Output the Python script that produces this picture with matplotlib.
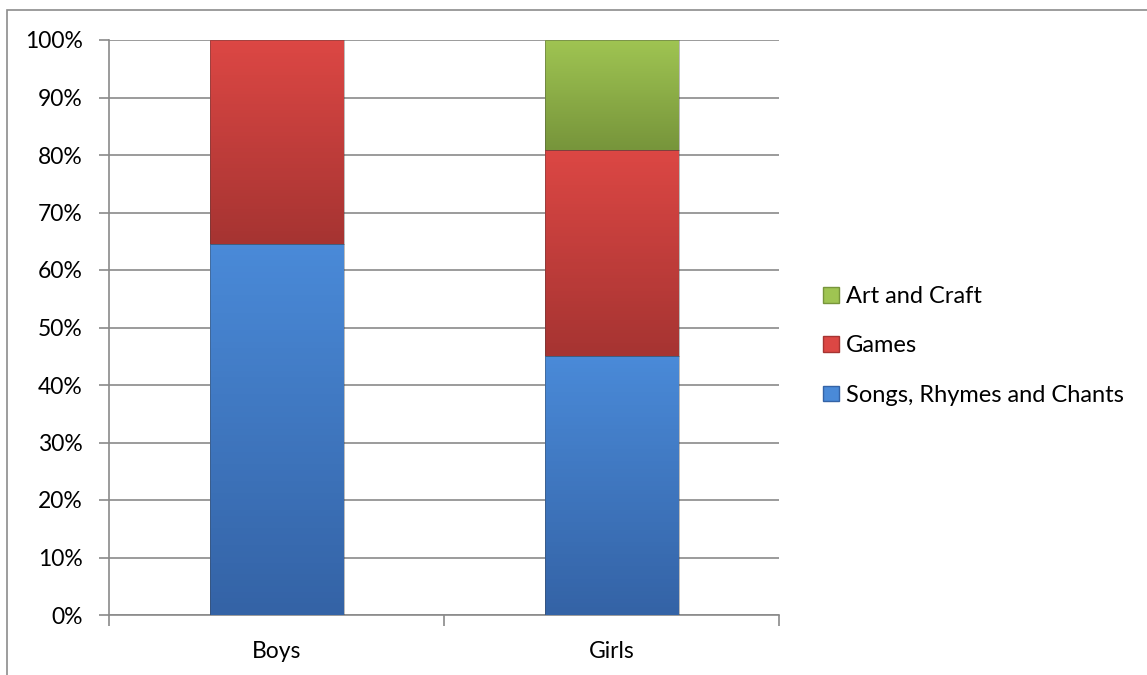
import numpy as np
import matplotlib
matplotlib.use('Agg')
import matplotlib.pyplot as plt
from matplotlib.colors import LinearSegmentedColormap
from matplotlib.patches import Patch, Rectangle

# Данные (доли в %)
categories = ['Boys', 'Girls']
series_names = ['Songs, Rhymes and Chants', 'Games', 'Art and Craft']
songs = [64.6, 45.0]
games = [35.4, 35.9]
art = [0.0, 19.1]
series_values = [songs, games, art]

# Цвета: (светлый верх, тёмный низ)
colors = [('#4a8ad8', '#3463a6'),
          ('#dc4744', '#a63432'),
          ('#9fc452', '#77953b')]

plt.rcParams['font.family'] = ['Lato', 'DejaVu Sans']

fig = plt.figure(figsize=(11.47, 6.75), dpi=100)
ax = fig.add_axes([109 / 1147, 1 - 615 / 675, 670 / 1147, 575 / 675])

# Рамка вокруг всей картинки
fig.patches.append(Rectangle((7 / 1147, -0.01), 1.2, 1 - 10 / 675 + 0.01,
                             transform=fig.transFigure, fill=False,
                             edgecolor='#8c8c8c', lw=1.2))

x = np.arange(len(categories))
width = 0.4
bottom = np.zeros(len(categories))
for vals, (c_top, c_bot) in zip(series_values, colors):
    vals = np.array(vals)
    cmap = LinearSegmentedColormap.from_list('g', [c_bot, c_top])
    grad = np.linspace(0, 1, 64).reshape(-1, 1)
    for xi, b, v in zip(x, bottom, vals):
        if v <= 0:
            continue
        ax.imshow(grad, cmap=cmap, aspect='auto', origin='lower',
                  extent=(xi - width / 2, xi + width / 2, b, b + v), zorder=3)
        ax.add_patch(Rectangle((xi - width / 2, b), width, v, fill=False,
                               edgecolor='#3a3a3a', lw=0.6, alpha=0.4, zorder=4))
    bottom += vals

ax.set_xlim(-0.5, 1.5)
ax.set_ylim(0, 100)
ax.set_yticks(np.arange(0, 101, 10))
ax.set_yticklabels([f'{v}%' for v in range(0, 101, 10)], fontsize=16.5)
ax.yaxis.grid(True, color='#8a8a8a', lw=1.2, zorder=0)
ax.set_axisbelow(True)

ax.set_xticks(x)
ax.set_xticklabels(categories, fontsize=16.5)
ax.tick_params(axis='x', length=0, pad=19)
ax.set_xticks([-0.5, 0.5, 1.5], minor=True)
ax.tick_params(axis='x', which='minor', length=8, color='#8a8a8a', width=1.2)
ax.tick_params(axis='y', length=7, color='#8a8a8a', width=1.2, pad=12)

for side in ['top', 'right']:
    ax.spines[side].set_visible(False)
for side in ['left', 'bottom']:
    ax.spines[side].set_color('#8a8a8a')
    ax.spines[side].set_linewidth(1.2)

handles = [Patch(facecolor=c[0], edgecolor=c[1], label=n)
           for n, c in zip(series_names, colors)][::-1]
fig.legend(handles=handles, loc='center left',
           bbox_to_anchor=(802 / 1147, 1 - 346 / 675), frameon=False,
           fontsize=17, handlelength=0.65, handleheight=0.65,
           handletextpad=0.3, labelspacing=1.2)

fig.savefig('out.png', dpi=100)
